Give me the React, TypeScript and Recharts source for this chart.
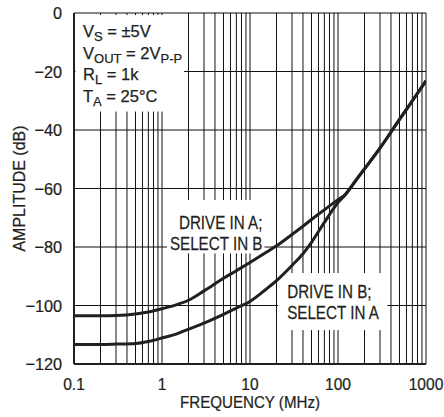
import { ComposedChart, Line, XAxis, YAxis, CartesianGrid, ReferenceArea, Label } from "recharts";

const FONT = "'Liberation Sans', Arial, sans-serif";
const INK = "#231f20";

// frequency points (MHz) shared by both curves
const FREQ = [0.1, 0.2, 0.3, 0.5, 0.7, 1, 1.5, 2, 3, 5, 7, 10, 15, 20, 30, 40, 50, 70, 100, 120, 150, 200, 300, 500, 700, 1000];
// DRIVE IN A; SELECT IN B
const AMP_A = [-103.5, -103.5, -103.4, -102.9, -102.2, -101.1, -99.6, -98.2, -95.0, -90.7, -88.1, -85.3, -82.0, -79.6, -75.7, -72.9, -70.6, -67.3, -63.8, -62.2, -58.3, -53.3, -46.2, -36.4, -30.0, -23.2];
// DRIVE IN B; SELECT IN A
const AMP_B = [-113.3, -113.3, -113.2, -113.0, -112.3, -111.1, -109.6, -108.1, -106.0, -103.0, -100.9, -98.6, -94.6, -91.5, -86.3, -82.3, -78.4, -71.6, -64.8, -62.2, -58.3, -53.3, -46.2, -36.4, -30.0, -23.2];

const DECADES = [0.1, 1, 10, 100];
const MULTS = [1, 2, 3, 4, 5, 6, 7, 8, 9];
const X_TICKS = [...DECADES.flatMap((d) => MULTS.map((m) => Number((d * m).toPrecision(2)))), 1000];
const X_LABELS = ["0.1", "1", "10", "100", "1000"];
const Y_TICKS = [0, -20, -40, -60, -80, -100, -120];

const dataA = FREQ.map((f, i) => ({ f, a: AMP_A[i] }));
const dataB = FREQ.map((f, i) => ({ f, b: AMP_B[i] }));

const fmtX = (v: number) => {
  const s = String(v);
  return X_LABELS.includes(s) ? s : "";
};
const fmtY = (v: number) => (v < 0 ? "\u2212" + Math.abs(v) : String(v));

// condensed text: regular face squeezed horizontally
function NText({ x, y, size, sx, anchor = "start", dy, rotate = 0, children }: any) {
  return (
    <text
      transform={`translate(${x},${y}) rotate(${rotate}) scale(${sx},1)`}
      textAnchor={anchor}
      dy={dy}
      fontSize={size}
      fontFamily={FONT}
      fill={INK}
      stroke={INK}
      strokeWidth={0.25}
    >
      {children}
    </text>
  );
}

function XTick(p: any) {
  return <NText x={p.x} y={p.y} size={17.3} sx={0.9} anchor="middle" dy="0.71em">{fmtX(p.payload.value)}</NText>;
}

function YTick(p: any) {
  return <NText x={p.x} y={p.y} size={17.3} sx={0.94} anchor="end" dy="0.355em">{fmtY(p.payload.value)}</NText>;
}

function XTitle(p: any) {
  const { x, y, width, height } = p.viewBox;
  return <NText x={x + width / 2} y={y + height - 9} size={17.2} sx={0.88} anchor="middle">FREQUENCY (MHz)</NText>;
}

function YTitle(p: any) {
  const { y, height } = p.viewBox;
  return <NText x={25} y={y + height / 2} size={17.2} sx={0.93} anchor="middle" rotate={-90}>AMPLITUDE (dB)</NText>;
}

function Sub({ children }: { children: string }) {
  return (
    <tspan fontSize={13} dy={4}>
      {children}
    </tspan>
  );
}

function ConditionsBox(props: any) {
  const { x, y, width, height } = props.viewBox;
  const lx = x + 9;
  const lines: [React.ReactNode, number][] = [
    [<>V<Sub>S</Sub><tspan dy={-4}> = ±5V</tspan></>, 22],
    [<>V<Sub>OUT</Sub><tspan dy={-4}> = 2V</tspan><Sub>P-P</Sub></>, 43.6],
    [<>R<Sub>L</Sub><tspan dy={-4}> = 1k</tspan></>, 65.3],
    [<>T<Sub>A</Sub><tspan dy={-4}> = 25°C</tspan></>, 87],
  ];
  return (
    <g>
      <rect x={x + 1.5} y={y} width={width - 1.5} height={height} fill="#fff" />
      <g fontFamily={FONT} fontSize={16.5} fill={INK} stroke={INK} strokeWidth={0.25}>
        {lines.map(([c, dy], i) => (
          <text key={i} x={lx} y={y + dy}>
            {c}
          </text>
        ))}
      </g>
    </g>
  );
}

function BoxA(props: any) {
  const { x, y, width, height } = props.viewBox;
  return (
    <g>
      <rect x={x} y={y} width={width} height={height} fill="#fff" />
      <NText x={x + width - 2} y={y + 29} size={19} sx={0.8} anchor="end">DRIVE IN A;</NText>
      <NText x={x + width - 2} y={y + 50} size={19} sx={0.8} anchor="end">SELECT IN B</NText>
    </g>
  );
}

function BoxB(props: any) {
  const { x, y, width, height } = props.viewBox;
  return (
    <g>
      <rect x={x} y={y} width={width} height={height} fill="#fff" />
      <NText x={x + 9} y={y + 25} size={19} sx={0.8}>DRIVE IN B;</NText>
      <NText x={x + 9} y={y + 46} size={19} sx={0.8}>SELECT IN A</NText>
    </g>
  );
}

export default function App() {
  return (
    <div style={{ position: "absolute", left: 0, top: 0, background: "#fff" }}>
      <ComposedChart width={444} height={417} margin={{ top: 13, right: 18, left: 0, bottom: 0 }}>
        <CartesianGrid stroke="#111" strokeWidth={1} />
        <ReferenceArea x1={0.1} x2={1.78} y1={-0.7} y2={-33.7} fillOpacity={0} stroke="none" label={ConditionsBox} />
        <ReferenceArea x1={1.14} x2={14.6} y1={-63.9} y2={-82.2} fillOpacity={0} stroke="none" label={BoxA} />
        <ReferenceArea x1={20.9} x2={364} y1={-88.9} y2={-108.4} fillOpacity={0} stroke="none" label={BoxB} />
        <Line data={dataA} dataKey="a" type="monotone" stroke={INK} strokeWidth={3} dot={false} isAnimationActive={false} />
        <Line data={dataB} dataKey="b" type="monotone" stroke={INK} strokeWidth={3} dot={false} isAnimationActive={false} />
        <XAxis
          dataKey="f"
          type="number"
          scale="log"
          domain={[0.1, 1000]}
          ticks={X_TICKS}
          interval={0}
          allowDataOverflow
          tickLine={false}
          tickSize={0}
          tickMargin={14}
          height={53}
          axisLine={{ stroke: INK, strokeWidth: 2 }}
          tick={XTick}
        >
          <Label content={XTitle} />
        </XAxis>
        <YAxis
          type="number"
          domain={[-120, 0]}
          ticks={Y_TICKS}
          interval={0}
          tickLine={false}
          tickSize={0}
          tickMargin={12}
          width={74}
          axisLine={{ stroke: INK, strokeWidth: 2 }}
          tick={YTick}
        >
          <Label content={YTitle} />
        </YAxis>
      </ComposedChart>
    </div>
  );
}
